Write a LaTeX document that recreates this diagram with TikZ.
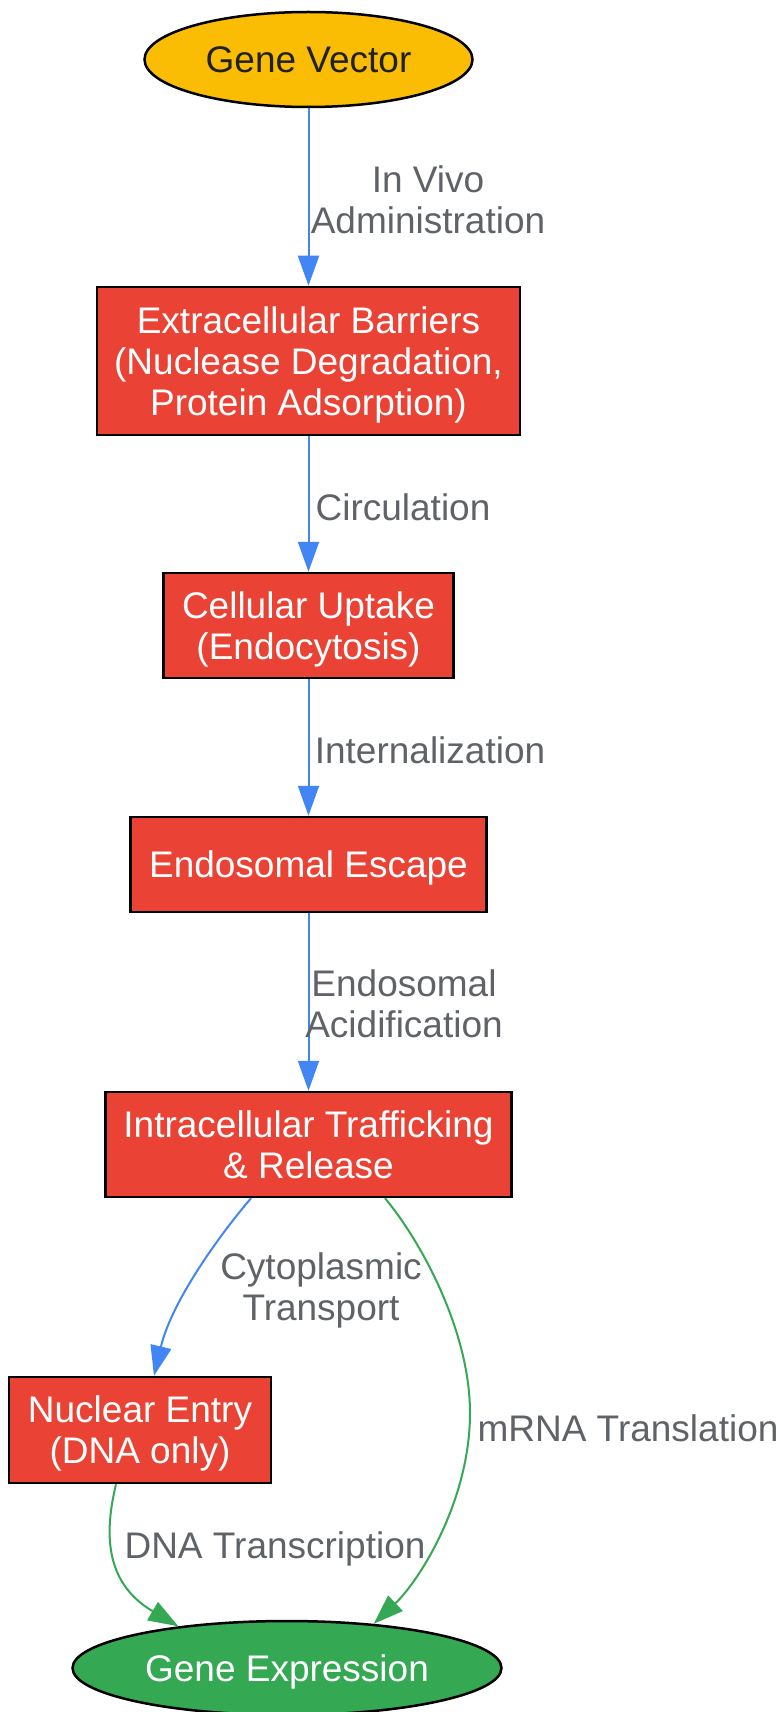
\documentclass[tikz,border=0pt]{standalone}
\usepackage{fontspec}
\setmainfont{Liberation Sans}
\usetikzlibrary{shapes.geometric,arrows.meta}
\definecolor{gyellow}{HTML}{FBBC04}
\definecolor{gred}{HTML}{EA4335}
\definecolor{ggreen}{HTML}{34A853}
\definecolor{gblue}{HTML}{4285F4}
\definecolor{ggrey}{HTML}{5F6368}
\definecolor{gdark}{HTML}{202124}
\begin{document}
\begin{tikzpicture}[x=1pt,y=-1pt,>={Triangle[length=30pt,width=21pt]},
    font=\fontsize{37}{41}\selectfont,
    stage/.style={draw=black,line width=2.5pt,fill=gred,text=white,align=center,
      inner sep=0pt,text depth=0pt},
    oval/.style={ellipse,draw=black,line width=2.5pt,inner sep=0pt,text depth=0pt},
    lbl/.style={text=ggrey,align=center},
    flow/.style={->,line width=2pt,draw=gblue},
    expr/.style={->,line width=2pt,draw=ggreen}]
    \useasboundingbox (0,0) rectangle (779,1712);
    % Узлы
    \node[oval,fill=gyellow,text=gdark,minimum width=328pt,minimum height=95pt]
    (gv) at (308.5,59.5) {Gene Vector};
    \node[stage,minimum width=423pt,minimum height=148pt]
    (ecb) at (308.5,361) {Extracellular Barriers\\(Nuclease Degradation,\\Protein Adsorption)};
    \node[stage,minimum width=290pt,minimum height=105pt]
    (cu) at (308.5,625.5) {Cellular Uptake\\(Endocytosis)};
    \node[stage,minimum width=356pt,minimum height=95pt]
    (ee) at (308.5,864.5) {Endosomal Escape};
    \node[stage,minimum width=406pt,minimum height=105pt]
    (itr) at (308.5,1144.5) {Intracellular Trafficking\\\& Release};
    \node[stage,minimum width=262pt,minimum height=106pt]
    (ne) at (140,1430) {Nuclear Entry\\(DNA only)};
    \node[oval,fill=ggreen,text=white,minimum width=429pt,minimum height=94pt]
    (gex) at (287,1668) {Gene Expression};

    % Стрелки
    \draw[flow] (gv) -- (ecb);
    \draw[flow] (ecb) -- (cu);
    \draw[flow] (cu) -- (ee);
    \draw[flow] (ee) -- (itr);
    \draw[flow] ([xshift=-57.5pt]itr.south) .. controls (222,1232) and (172,1300)
    .. ([xshift=14pt]ne.north);
    \draw[expr] ([xshift=76.5pt]itr.south) .. controls (420,1240) and (470,1330)
    .. (470,1413) .. controls (470,1500) and (420,1580) .. (gex.27.6);
    \draw[expr] ([xshift=-24pt]ne.south) .. controls (105,1530) and (103,1582)
    .. (gex.159.2);

    % Подписи
    \node[lbl] (l1) at (428,200) {In Vivo\\Administration};
    \node[lbl] (l2) at (403,507) {Circulation};
    \node[lbl] (l3) at (430,750) {Internalization};
    \node[lbl] (l4) at (404,1004) {Endosomal\\Acidification};
    \node[lbl] (l5) at (321,1290) {Cytoplasmic\\Transport};
    \node[lbl] (l6) at (628,1428) {mRNA Translation};
    \node[lbl] (l7) at (275,1549) {DNA Transcription};
\end{tikzpicture}
\end{document}
